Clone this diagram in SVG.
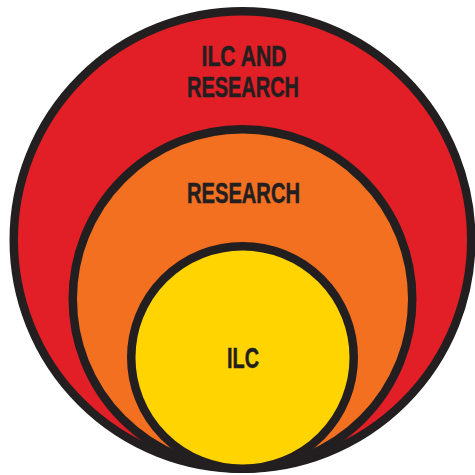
<svg xmlns="http://www.w3.org/2000/svg" width="475" height="475" viewBox="0 0 475 475">
<style>
.ring{stroke:#231F20;stroke-width:8.5}
.lbl{font-family:"Liberation Sans",Arial,sans-serif;font-weight:bold;font-size:29.5px;fill:#231F20;stroke:#231F20;stroke-width:0.5;text-anchor:middle}
</style>
<rect width="475" height="475" fill="#FFFFFF"/>
<g id="outer">
<circle class="ring" cx="242.5" cy="240" r="228.75" fill="#E21F26"/>
<text class="lbl" x="244" y="66" textLength="85" lengthAdjust="spacingAndGlyphs">ILC AND</text>
<text class="lbl" x="243" y="97" textLength="112" lengthAdjust="spacingAndGlyphs">RESEARCH</text>
</g>
<g id="research">
<circle class="ring" cx="242.5" cy="299" r="169.75" fill="#F37021"/>
<text class="lbl" x="243.5" y="203" textLength="113" lengthAdjust="spacingAndGlyphs">RESEARCH</text>
</g>
<g id="ilc">
<circle class="ring" cx="242.5" cy="357.5" r="111.25" fill="#FFD400"/>
<text class="lbl" x="243" y="368" textLength="32" lengthAdjust="spacingAndGlyphs">ILC</text>
</g>
<g id="connectors"></g>
</svg>
